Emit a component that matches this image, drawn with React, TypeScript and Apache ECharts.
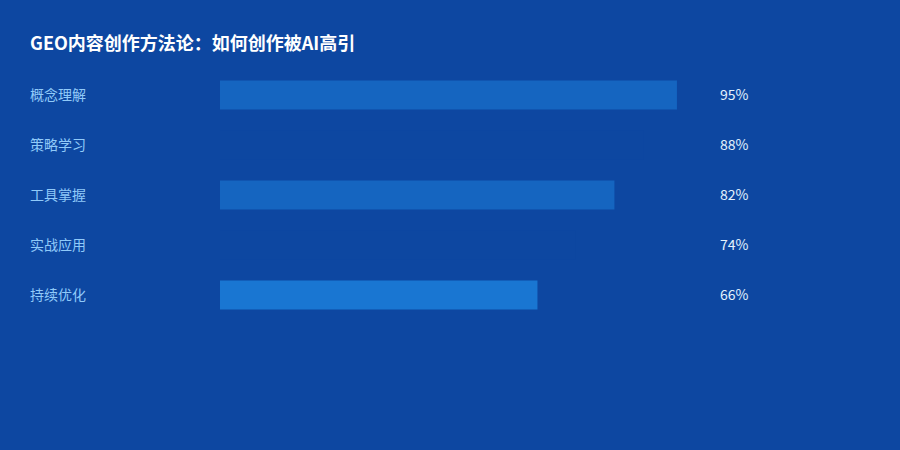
import React, { useEffect, useRef } from "react";
import * as echarts from "echarts";

const categories = ["概念理解", "策略学习", "工具掌握", "实战应用", "持续优化"];
const values = [95, 88, 82, 74, 66];
const valueLabels = ["95%", "88%", "82%", "74%", "66%"];
const barColors = ["#1565c0", "#0d47a1", "#1565c0", "#0d47a1", "#1976d2"];
const titleText = "GEO内容创作方法论：如何创作被AI高引";

export default function App() {
  const ref = useRef<HTMLDivElement>(null);
  useEffect(() => {
    if (!ref.current) return;
    const chart = echarts.init(ref.current, null, { renderer: "svg" });
    const font = "'Noto Sans CJK SC', 'Noto Sans', sans-serif";
    chart.setOption({
      animation: false,
      backgroundColor: "#0d47a1",
      title: {
        text: titleText,
        left: 30,
        top: 33,
        padding: 0,
        textStyle: { color: "#ffffff", fontSize: 18, fontWeight: "bold", fontFamily: font },
      },
      grid: { left: 220, right: 199, top: 70, bottom: 130, containLabel: false },
      xAxis: {
        type: "value",
        min: 0,
        max: 100,
        show: false,
      },
      yAxis: [
        {
          type: "category",
          data: categories,
          inverse: true,
          position: "left",
          axisLine: { show: false },
          axisTick: { show: false },
          splitLine: { show: false },
          axisLabel: {
            fontFamily: font,
            align: "left",
            margin: 190,
            formatter: (v: string) => `{a|${v}}`,
            rich: { a: { color: "#90caf9", fontSize: 14, fontFamily: font, lineHeight: 14, padding: [0, 0, 3, 0] } },
          },
        },
        {
          type: "category",
          data: valueLabels,
          inverse: true,
          position: "right",
          axisLine: { show: false },
          axisTick: { show: false },
          splitLine: { show: false },
          axisLabel: {
            fontFamily: font,
            align: "left",
            margin: 19,
            formatter: (v: string) => `{a|${v}}`,
            rich: { a: { color: "#e3f2fd", fontSize: 14, fontFamily: font, lineHeight: 14, padding: [0, 0, 3, 0] } },
          },
        },
      ],
      series: [
        {
          type: "bar",
          yAxisIndex: 0,
          barWidth: 29,
          data: values.map((v, i) => ({ value: v, itemStyle: { color: barColors[i] } })),
        },
      ],
    });
    return () => chart.dispose();
  }, []);
  return <div ref={ref} style={{ width: 900, height: 450, position: "fixed", left: 0, top: 0 }} />;
}
